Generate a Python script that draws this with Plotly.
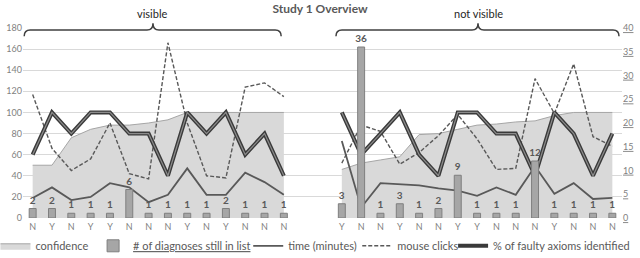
import plotly.graph_objects as go

# ---------------- data ----------------
labels_visible = ['N','Y','N','Y','Y','N','N','N','Y','N','Y','N','N','N']
labels_not_visible = ['Y','N','N','Y','N','N','Y','Y','N','N','N','Y','N','N','N']

conf_vis = [50,50,76,84,88,88,90,93,100,100,100,100,100,100]
diag_vis = [2,2,1,1,1,6,1,1,1,1,2,1,1,1]
time_vis = [19,29,17,20,33,29,15,22,47,22,22,43,34,22]
clicks_vis = [117,66,45,56,90,42,37,166,90,40,38,124,128,115]
faulty_vis = [60,100,80,100,100,80,80,40,100,80,100,60,80,40]

conf_nv = [46,52,55,58,79,80,84,88,89,91,92,97,100,100,100]
diag_nv = [3,36,1,3,1,2,9,1,1,1,12,1,1,1,1]
time_nv = [73,10,33,32,31,28,26,21,29,22,49,23,33,18,19]
clicks_nv = [52,88,82,51,62,78,98,75,46,47,132,99,146,77,68]
faulty_nv = [100,60,80,100,60,40,100,100,80,80,40,100,80,40,80]

left_ticks = [0,20,40,60,80,100,120,140,160,180]
right_ticks = [0,5,10,15,20,25,30,35,40]

# ---------------- positions ----------------
gap = 2
x_vis = list(range(1, len(labels_visible) + 1))
start_nv = len(labels_visible) + gap + 1
x_nv = list(range(start_nv, start_nv + len(labels_not_visible)))
all_labels = labels_visible + [''] * gap + labels_not_visible
all_x = list(range(1, len(all_labels) + 1))

FONT = "Lato"
fig = go.Figure()

# confidence areas
for i, (xs, ys) in enumerate([(x_vis, conf_vis), (x_nv, conf_nv)]):
    fig.add_trace(go.Scatter(
        x=xs, y=ys, mode='lines', fill='tozeroy',
        fillcolor='#d9d9d9', line=dict(color='#a6a6a6', width=1),
        name='confidence', legendgroup='conf', legend='legend',
        showlegend=(i == 0)))

# diagnoses bars (secondary axis)
for i, (xs, ys) in enumerate([(x_vis, diag_vis), (x_nv, diag_nv)]):
    fig.add_trace(go.Bar(
        x=xs, y=ys, yaxis='y2', width=0.36,
        marker=dict(color='#a6a6a6', line=dict(color='#7f7f7f', width=1)),
        text=ys, texttemplate='<b>%{text}</b>', textposition='outside',
        constraintext='none',
        textfont=dict(size=10, color='#595959', family=FONT),
        cliponaxis=False,
        name='<u># of diagnoses still in list</u>', legendgroup='diag',
        legend='legend2', showlegend=(i == 0)))

# time
for i, (xs, ys) in enumerate([(x_vis, time_vis), (x_nv, time_nv)]):
    fig.add_trace(go.Scatter(
        x=xs, y=ys, mode='lines', line=dict(color='#595959', width=1.8),
        name='time (minutes)', legendgroup='time', legend='legend3',
        showlegend=(i == 0)))

# mouse clicks
for i, (xs, ys) in enumerate([(x_vis, clicks_vis), (x_nv, clicks_nv)]):
    fig.add_trace(go.Scatter(
        x=xs, y=ys, mode='lines',
        line=dict(color='#595959', width=1.4, dash='4px,2px'),
        name='mouse clicks', legendgroup='clicks', legend='legend4',
        showlegend=(i == 0)))

# faulty axioms (double line)
for i, (xs, ys) in enumerate([(x_vis, faulty_vis), (x_nv, faulty_nv)]):
    fig.add_trace(go.Scatter(
        x=xs, y=ys, mode='lines', line=dict(color='#3a3a3a', width=4),
        name='% of faulty axioms identified', legendgroup='faulty',
        legend='legend5', showlegend=(i == 0)))
    fig.add_trace(go.Scatter(
        x=xs, y=ys, mode='lines', line=dict(color='#8c8c8c', width=1.2),
        legendgroup='faulty', legend='legend5', showlegend=False,
        hoverinfo='skip'))

# ---------------- braces ----------------
def brace(x0, xm, x1, yb=0.956, yl=0.989, yt=1.025, r=0.01):
    return (f"M {x0},{yb} Q {x0},{yl} {x0+r},{yl} L {xm-r},{yl} "
            f"Q {xm},{yl} {xm},{yt} Q {xm},{yl} {xm+r},{yl} "
            f"L {x1-r},{yl} Q {x1},{yl} {x1},{yb}")

shapes = [
    dict(type='path', xref='paper', yref='paper',
         path=brace(0.002, 0.217, 0.431), line=dict(color='#404040', width=1.5)),
    dict(type='path', xref='paper', yref='paper',
         path=brace(0.5225, 0.7596, 0.995), line=dict(color='#404040', width=1.5)),
]

annotations = [
    dict(text='visible', x=0.215, y=1.075, xref='paper', yref='paper',
         xanchor='center', yanchor='middle',
         showarrow=False, font=dict(size=11, color='#262626', family=FONT)),
    dict(text='not visible', x=0.7596, y=1.075, xref='paper', yref='paper',
         xanchor='center', yanchor='middle',
         showarrow=False, font=dict(size=11, color='#262626', family=FONT)),
]

def leg(xp):
    return dict(orientation='h', x=xp, xanchor='left', y=-0.07, yanchor='top',
                font=dict(size=11, color='#595959', family=FONT),
                itemwidth=30, tracegroupgap=0, bgcolor='rgba(0,0,0,0)')

fig.update_layout(
    width=640, height=258,
    margin=dict(l=23, r=18, t=28, b=40, autoexpand=False),
    paper_bgcolor='white', plot_bgcolor='white',
    font=dict(family=FONT, size=11, color='#595959'),
    title=dict(text='<b>Study 1 Overview</b>', x=0.5, xanchor='center',
               y=0.967, yanchor='middle', yref='container',
               font=dict(size=12, color='#595959', family=FONT)),
    xaxis=dict(range=[0.5, len(all_labels) + 0.5], tickmode='array',
               tickvals=all_x, ticktext=all_labels, showgrid=False,
               zeroline=False, showline=False, ticks='',
               ticklabelstandoff=2,
               tickfont=dict(size=9, color='#7f7f7f', family=FONT)),
    yaxis=dict(range=[0, 180], tickmode='array', tickvals=left_ticks,
               showgrid=True, gridcolor='#d9d9d9', gridwidth=1,
               zeroline=False, showline=False, ticks='',
               tickfont=dict(size=9, color='#7f7f7f', family=FONT)),
    yaxis2=dict(range=[0, 40], overlaying='y', side='right', tickmode='array',
                tickvals=right_ticks,
                ticktext=[f'<u>{v}</u>' for v in right_ticks],
                showgrid=False, zeroline=False, showline=False, ticks='',
                tickfont=dict(size=9, color='#7f7f7f', family=FONT)),
    barmode='overlay',
    showlegend=True,
    legend=leg(-0.046),
    legend2=leg(0.117),
    legend3=leg(0.376),
    legend4=leg(0.558),
    legend5=leg(0.718),
    shapes=shapes, annotations=annotations,
)

fig.write_html("out.html",
               config={'displayModeBar': False},
               post_script="document.body.style.margin='0';"
                           "document.body.style.overflow='hidden';")
